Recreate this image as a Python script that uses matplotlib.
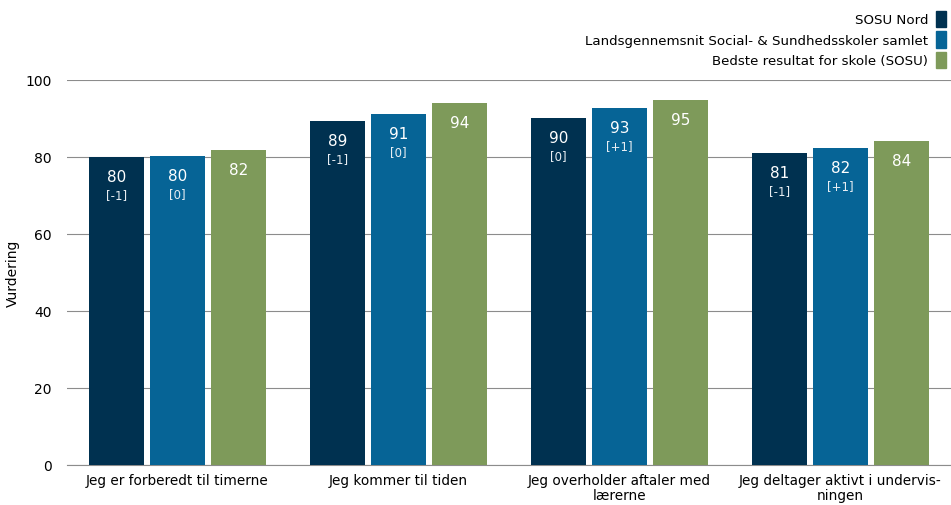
import matplotlib.pyplot as plt
from matplotlib.patches import Patch
import numpy as np

plt.rcParams['font.family'] = ['DejaVu Sans']

categories = ["Jeg er forberedt til timerne", "Jeg kommer til tiden",
              "Jeg overholder aftaler med\nlærerne", "Jeg deltager aktivt i undervis-\nningen"]
series_names = ["SOSU Nord", "Landsgennemsnit Social- & Sundhedsskoler samlet",
                "Bedste resultat for skole (SOSU)"]
sosu_nord = [80.0, 89.4, 90.1, 81.0]
landsgns = [80.3, 91.2, 92.7, 82.3]
bedste = [81.8, 94.0, 94.8, 84.2]
nord_diff = ["[-1]", "[-1]", "[0]", "[-1]"]
lands_diff = ["[0]", "[0]", "[+1]", "[+1]"]
colors = ["#003150", "#066496", "#7E9A5A"]

fig = plt.figure(figsize=(9.51, 5.06), dpi=100)
ax = fig.add_axes([67 / 951, 40 / 506, 884 / 951, 385 / 506])

x = np.arange(len(categories))
w = 0.253
step = 0.276
series = [sosu_nord, landsgns, bedste]
diffs = [nord_diff, lands_diff, None]
for i, (vals, col) in enumerate(zip(series, colors)):
    pos = x + (i - 1) * step
    ax.bar(pos, vals, width=w, color=col, zorder=3)
    for j, v in enumerate(vals):
        ax.annotate(f"{round(v):.0f}", (pos[j], v), xytext=(0, -14), textcoords="offset points",
                    ha="center", va="center", color="white", fontsize=11, zorder=4)
        if diffs[i] is not None:
            ax.annotate(diffs[i][j], (pos[j], v), xytext=(0, -27), textcoords="offset points",
                        ha="center", va="center", color="#e8eef3", fontsize=8.5, zorder=4)

ax.set_xlim(-0.5, 3.5)
ax.set_ylim(0, 100)
ax.set_yticks(range(0, 101, 20))
ax.yaxis.grid(True, color="#8c8c8c", linewidth=0.8, zorder=0)
ax.tick_params(axis="y", length=0, labelsize=10, pad=11)
ax.tick_params(axis="x", length=0, labelsize=9.8, pad=6)
ax.set_xticks(x)
ax.set_xticklabels(categories, linespacing=1.1)
for s in ["top", "right", "left"]:
    ax.spines[s].set_visible(False)
ax.spines["bottom"].set_color("#8c8c8c")
ax.set_ylabel("Vurdering", fontsize=10, labelpad=4)

handles = [Patch(color=c) for c in colors]
fig.legend(handles, series_names, loc="upper right", bbox_to_anchor=(1.0, 0.986), frameon=False,
           markerfirst=False, fontsize=9.6, handlelength=0.75, handleheight=1.55, handletextpad=0.6,
           labelspacing=0.28, borderpad=0.35, borderaxespad=0.0, alignment="right")

fig.savefig("out.png", dpi=100)
